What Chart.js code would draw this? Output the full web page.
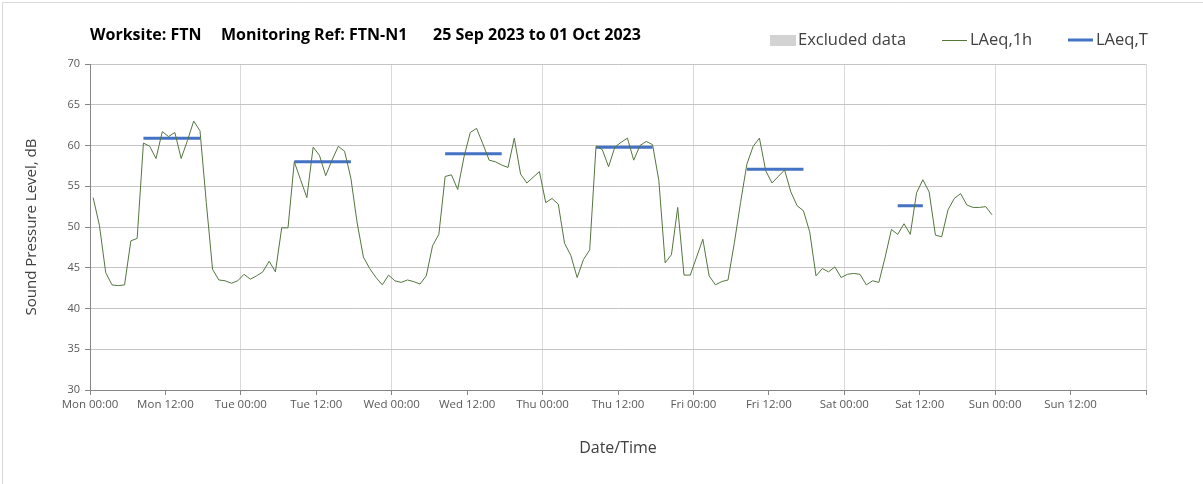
<!DOCTYPE html>
<html>
<head>
<meta charset="utf-8">
<script src="https://cdn.jsdelivr.net/npm/chart.js@4"></script>
<style>
  body { margin: 0; background: #fff; }
  canvas { display: block; }
</style>
</head>
<body>
<canvas id="noise-chart" width="1203" height="484"></canvas>
<script>
// day names for the x tick labels (ticks every 12 h, starting Mon 00:00)
var dayNames = ["Mon", "Tue", "Wed", "Thu", "Fri", "Sat", "Sun"];

// hourly LAeq,1h values, Mon 00:00 .. Sat 23:00 (one per hour)
var laeq1h = [
  53.6, 50.2, 44.4, 42.9, 42.8, 42.9, 48.3, 48.6, 60.3, 59.9, 58.4, 61.7,
  61.1, 61.6, 58.4, 60.6, 63.0, 61.8, 53.0, 44.8, 43.5, 43.4, 43.1, 43.4,
  44.2, 43.6, 44.0, 44.5, 45.8, 44.5, 49.9, 49.9, 58.0, 55.8, 53.6, 59.8,
  58.8, 56.3, 58.2, 59.9, 59.3, 56.0, 50.5, 46.3, 44.9, 43.8, 42.9, 44.1,
  43.4, 43.2, 43.5, 43.3, 43.0, 44.0, 47.7, 49.1, 56.2, 56.4, 54.6, 58.6,
  61.6, 62.1, 60.2, 58.2, 58.0, 57.6, 57.3, 60.9, 56.5, 55.4, 56.1, 56.8,
  53.0, 53.5, 52.8, 48.0, 46.5, 43.8, 46.0, 47.2, 59.9, 59.5, 57.4, 59.8,
  60.4, 60.9, 58.2, 60.0, 60.5, 60.1, 55.7, 45.6, 46.6, 52.4, 44.1, 44.1,
  46.3, 48.5, 44.0, 42.9, 43.3, 43.5, 48.0, 53.0, 57.7, 59.9, 60.9, 56.9,
  55.4, 56.2, 57.0, 54.3, 52.6, 52.0, 49.4, 44.0, 44.9, 44.5, 45.1, 43.8,
  44.2, 44.3, 44.2, 42.9, 43.4, 43.2, 46.3, 49.7, 49.1, 50.4, 49.1, 54.2,
  55.8, 54.3, 49.0, 48.8, 52.1, 53.5, 54.1, 52.7, 52.4, 52.4, 52.5, 51.5
];

// LAeq,T periods: first and last hour index and level
var laeqTStart = [8, 32, 56, 80, 104, 128];
var laeqTEnd = [17, 41, 65, 89, 113, 132];
var laeqTValue = [60.9, 58.0, 59.0, 59.8, 57.1, 52.6];

var greenLine = "#55753F";
var blueLine = "#4472C4";
var excludedGrey = "#d3d3d3";

// points are plotted at the middle of each hour
var hourlyPoints = laeq1h.map(function (v, i) { return {x: i + 0.5, y: v}; });

var periodPoints = [];
laeqTValue.forEach(function (v, k) {
  periodPoints.push({x: laeqTStart[k] + 0.5, y: v});
  periodPoints.push({x: laeqTEnd[k] + 0.5, y: v});
  periodPoints.push({x: laeqTEnd[k] + 2, y: null});
});

var headerPlugin = {
  id: 'header',
  afterDraw: function (chart) {
    var ctx = chart.ctx;
    ctx.save();
    // outer frame
    ctx.strokeStyle = '#d9d9d9';
    ctx.lineWidth = 1;
    ctx.beginPath();
    ctx.moveTo(2.5, chart.height);
    ctx.lineTo(2.5, 2.5);
    ctx.lineTo(chart.width, 2.5);
    ctx.stroke();

    // title
    ctx.fillStyle = '#000';
    ctx.textBaseline = 'middle';
    ctx.font = 'bold 16px "Open Sans"';
    ctx.fillText('Worksite: FTN', 90, 35);
    ctx.fillText('Monitoring Ref: FTN-N1', 221, 35);
    ctx.fillText('25 Sep 2023 to 01 Oct 2023', 433, 35);

    // legend
    ctx.font = '16.5px "Open Sans"';
    ctx.fillStyle = excludedGrey;
    ctx.fillRect(770, 35, 26, 11);
    ctx.fillStyle = '#404040';
    ctx.fillText('Excluded data', 798, 40);

    ctx.strokeStyle = greenLine;
    ctx.lineWidth = 1;
    ctx.beginPath(); ctx.moveTo(942, 40.5); ctx.lineTo(967, 40.5); ctx.stroke();
    ctx.fillText('LAeq,1h', 970, 40);

    ctx.strokeStyle = blueLine;
    ctx.lineWidth = 3;
    ctx.beginPath(); ctx.moveTo(1068, 40); ctx.lineTo(1093, 40); ctx.stroke();
    ctx.fillText('LAeq,T', 1096, 40);
    ctx.restore();
  }
};

var noiseChart = new Chart(document.getElementById('noise-chart'), {
  type: 'line',
  data: {
    datasets: [
      {
        label: 'LAeq,1h',
        data: hourlyPoints,
        borderColor: greenLine,
        borderWidth: 1,
        pointRadius: 0,
        pointHoverRadius: 0,
        tension: 0
      }, {
        label: 'LAeq,T',
        data: periodPoints,
        borderColor: blueLine,
        borderWidth: 3,
        pointRadius: 0,
        pointHoverRadius: 0,
        spanGaps: false
      }
    ]
  },
  plugins: [headerPlugin],
  options: {
    responsive: false, animation: false, devicePixelRatio: 1,
    layout: {padding: {top: 64, right: 57, left: 0, bottom: 0}},
    plugins: {legend: {display: false}, title: {display: false}, tooltip: {enabled: false}},
    scales: {
      x: {
        type: 'linear', min: 0, max: 168,
        afterFit: function (scale) { scale.height = 94; },
        grid: {
          color: function (c) { return c.tick && c.tick.value % 24 === 0 ? '#d9d9d9' : 'rgba(0,0,0,0)'; },
          tickColor: '#868686', tickLength: 5
        },
        border: {color: '#868686'},
        ticks: {
          stepSize: 12, autoSkip: false, maxRotation: 0, padding: 3,
          color: '#595959', font: {family: 'Open Sans', size: 11.5},
          callback: function (v) {
            if (v >= 168) return '';
            return dayNames[Math.floor(v / 24)] + (v % 24 ? ' 12:00' : ' 00:00');
          }
        },
        title: {
          display: true, text: 'Date/Time', color: '#404040',
          font: {family: 'Open Sans', size: 16}, padding: {top: 0, bottom: 26}
        }
      },
      y: {
        min: 30, max: 70,
        afterFit: function (scale) { scale.width = 90; },
        grid: {color: '#c4c4c4', tickColor: '#868686', tickLength: 5},
        border: {color: '#868686'},
        ticks: {stepSize: 5, padding: 5, color: '#595959', font: {family: 'Open Sans', size: 11}},
        title: {
          display: true, text: 'Sound Pressure Level, dB', color: '#404040',
          font: {family: 'Open Sans', size: 15}, padding: {top: 23, bottom: 0}
        }
      }
    }
  }
});
</script>
</body>
</html>
